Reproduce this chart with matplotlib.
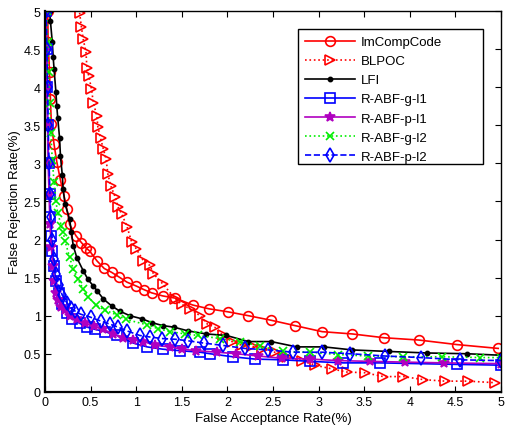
import matplotlib
matplotlib.use("Agg")
import matplotlib.pyplot as plt
from matplotlib.patches import Rectangle

plt.rcParams["font.family"] = ["Liberation Sans", "DejaVu Sans"]

# FAR / FRR curves (%), one pair of lists per method
imcomp_far = [0.03, 0.035, 0.05, 0.06, 0.07, 0.10, 0.13, 0.17, 0.21, 0.24, 0.27, 0.34, 0.40, 0.45,
              0.49, 0.57, 0.65, 0.73, 0.81, 0.90, 1.00, 1.09, 1.17, 1.29, 1.43, 1.62, 1.80, 2.01,
              2.23, 2.48, 2.74, 3.04, 3.37, 3.72, 4.10, 4.52, 4.97]
imcomp_frr = [5.0, 4.6, 4.2, 3.85, 3.52, 3.25, 3.02, 2.78, 2.57, 2.40, 2.20, 2.05, 1.96, 1.89,
              1.85, 1.72, 1.62, 1.57, 1.51, 1.44, 1.39, 1.34, 1.30, 1.26, 1.23, 1.14, 1.09, 1.05,
              1.00, 0.94, 0.87, 0.79, 0.76, 0.71, 0.68, 0.62, 0.57]

blpoc_far = [0.38, 0.40, 0.42, 0.45, 0.46, 0.48, 0.51, 0.53, 0.57, 0.58, 0.61, 0.64, 0.67, 0.69,
             0.72, 0.77, 0.80, 0.84, 0.90, 0.95, 1.00, 1.08, 1.15, 1.19, 1.29, 1.43, 1.50, 1.59,
             1.70, 1.78, 1.86, 1.95, 2.05, 2.16, 2.27, 2.38, 2.52, 2.65, 2.82, 2.96, 3.15, 3.31,
             3.51, 3.71, 3.93, 4.15, 4.39, 4.64, 4.93]
blpoc_frr = [4.98, 4.79, 4.63, 4.46, 4.26, 4.15, 3.98, 3.80, 3.62, 3.48, 3.33, 3.19, 3.06, 2.86,
             2.71, 2.56, 2.43, 2.34, 2.17, 1.97, 1.88, 1.72, 1.66, 1.55, 1.42, 1.22, 1.15, 1.09,
             1.00, 0.89, 0.85, 0.74, 0.66, 0.61, 0.60, 0.56, 0.52, 0.46, 0.41, 0.35, 0.30, 0.26,
             0.25, 0.20, 0.20, 0.16, 0.14, 0.14, 0.12]

lfi_far = [0.05, 0.06, 0.08, 0.09, 0.10, 0.12, 0.13, 0.14, 0.16, 0.17, 0.19, 0.20, 0.22, 0.27,
           0.29, 0.31, 0.35, 0.42, 0.47, 0.53, 0.57, 0.64, 0.73, 0.82, 0.93, 1.06, 1.17, 1.29,
           1.41, 1.57, 1.77, 1.99, 2.23, 2.48, 2.76, 3.06, 3.37, 3.77, 4.19, 4.63, 5.00]
lfi_frr = [5.0, 4.87, 4.6, 4.4, 4.24, 3.94, 3.75, 3.6, 3.34, 3.1, 2.85, 2.66, 2.47, 2.27,
           2.10, 1.92, 1.76, 1.59, 1.48, 1.39, 1.33, 1.22, 1.13, 1.06, 1.00, 0.96, 0.91, 0.87,
           0.85, 0.80, 0.76, 0.74, 0.66, 0.66, 0.59, 0.59, 0.55, 0.53, 0.51, 0.50, 0.48]

gl1_far = [0.01, 0.02, 0.025, 0.03, 0.04, 0.05, 0.06, 0.07, 0.08, 0.10, 0.12, 0.15, 0.19, 0.24,
           0.30, 0.38, 0.46, 0.55, 0.66, 0.79, 0.97, 1.12, 1.29, 1.48, 1.70, 1.81, 2.06, 2.30,
           2.61, 2.91, 3.27, 3.67, 4.52, 5.00]
gl1_frr = [5.0, 4.5, 4.0, 3.5, 3.0, 2.6, 2.3, 2.05, 1.85, 1.65, 1.45, 1.30, 1.15, 1.04,
           0.96, 0.90, 0.85, 0.82, 0.79, 0.74, 0.64, 0.59, 0.56, 0.54, 0.52, 0.50, 0.46, 0.43,
           0.42, 0.40, 0.38, 0.38, 0.36, 0.35]

pl1_far = [0.01, 0.015, 0.02, 0.03, 0.035, 0.045, 0.055, 0.07, 0.085, 0.10, 0.12, 0.14, 0.18,
           0.22, 0.28, 0.35, 0.44, 0.54, 0.64, 0.75, 0.86, 0.97, 1.08, 1.21, 1.37, 1.50, 1.66,
           1.89, 2.10, 2.34, 2.60, 2.91, 3.21, 3.56, 3.95, 4.37, 5.00]
pl1_frr = [5.0, 4.5, 4.0, 3.5, 3.0, 2.6, 2.2, 1.9, 1.65, 1.45, 1.30, 1.20, 1.12,
           1.07, 1.00, 0.95, 0.90, 0.86, 0.82, 0.76, 0.71, 0.68, 0.66, 0.61, 0.59, 0.56, 0.54,
           0.52, 0.50, 0.47, 0.44, 0.43, 0.41, 0.40, 0.39, 0.38, 0.37]

gl2_far = [0.02, 0.03, 0.04, 0.05, 0.065, 0.08, 0.10, 0.12, 0.14, 0.18, 0.20, 0.22, 0.27, 0.31,
           0.36, 0.42, 0.47, 0.56, 0.66, 0.79, 0.89, 1.12, 1.24, 1.37, 1.54, 1.68, 1.92, 2.14,
           2.36, 2.61, 2.91, 3.21, 3.54, 3.93, 4.35, 4.77, 5.00]
gl2_frr = [5.0, 4.6, 4.2, 3.8, 3.4, 3.05, 2.75, 2.5, 2.35, 2.18, 2.10, 1.98, 1.77, 1.61,
           1.48, 1.35, 1.25, 1.14, 1.07, 1.01, 0.95, 0.88, 0.83, 0.79, 0.76, 0.74, 0.70, 0.66,
           0.60, 0.53, 0.52, 0.49, 0.47, 0.46, 0.46, 0.45, 0.45]

pl2_far = [0.015, 0.02, 0.03, 0.035, 0.045, 0.055, 0.065, 0.08, 0.10, 0.12, 0.15, 0.19, 0.24,
           0.29, 0.33, 0.39, 0.50, 0.61, 0.71, 0.80, 0.90, 1.04, 1.15, 1.28, 1.43, 1.57, 1.74,
           1.95, 2.19, 2.45, 2.72, 3.04, 3.35, 3.73, 4.12, 4.55, 5.00]
pl2_frr = [5.0, 4.5, 4.0, 3.5, 3.0, 2.6, 2.3, 2.0, 1.75, 1.55, 1.40, 1.27, 1.17,
           1.10, 1.06, 1.02, 0.98, 0.93, 0.89, 0.85, 0.80, 0.74, 0.72, 0.70, 0.69, 0.67, 0.64,
           0.61, 0.57, 0.55, 0.52, 0.52, 0.50, 0.47, 0.45, 0.42, 0.41]

labels = ["ImCompCode", "BLPOC", "LFI", "R-ABF-g-l1", "R-ABF-p-l1", "R-ABF-g-l2", "R-ABF-p-l2"]
tick_vals = [0, 0.5, 1, 1.5, 2, 2.5, 3, 3.5, 4, 4.5, 5]
tick_text = ["0", "0.5", "1", "1.5", "2", "2.5", "3", "3.5", "4", "4.5", "5"]

series = [
    (imcomp_far, imcomp_frr, dict(color="#ff0000", ls="-", marker="o", mfc="none", ms=7)),
    (blpoc_far, blpoc_frr, dict(color="#ff0000", ls=":", marker=">", mfc="none", ms=7)),
    (lfi_far, lfi_frr, dict(color="black", ls="-", marker=".", ms=6)),
    (gl1_far, gl1_frr, dict(color="#0000ff", ls="-", marker="s", mfc="none", ms=7)),
    (pl1_far, pl1_frr, dict(color="#b000c0", ls="-", marker="*", ms=7)),
    (gl2_far, gl2_frr, dict(color="#00ee00", ls=":", marker="x", ms=6)),
    (pl2_far, pl2_frr, dict(color="#0000ff", ls="--", marker="d", mfc="none", ms=7)),
]

fig = plt.figure(figsize=(5.05, 4.35), dpi=100)
ax = fig.add_axes([0.089, 0.097, 0.903, 0.875])

for (x, y, style), name in zip(series, labels):
    ax.plot(x, y, lw=1.2, mew=1.2, label=name, **style)

ax.set_xlim(0, 5)
ax.set_ylim(0, 5)
ax.set_xticks(tick_vals)
ax.set_xticklabels(tick_text)
ax.set_yticks(tick_vals)
ax.set_yticklabels(tick_text)
ax.tick_params(direction="in", top=True, right=True, length=4, labelsize=9, pad=3)
for side in ax.spines:
    ax.spines[side].set_linewidth(1.0)
ax.spines["left"].set_linewidth(1.6)
ax.spines["bottom"].set_linewidth(1.6)

ax.set_xlabel("False Acceptance Rate(%)", fontsize=9.5, labelpad=3)
ax.set_ylabel("False Rejection Rate(%)", fontsize=9.5, labelpad=2)

# legend entries without their own frame; a wider box is drawn behind them
leg = ax.legend(loc="upper left", bbox_to_anchor=(0.565, 0.942), fontsize=9.5,
                handlelength=3.8, handletextpad=0.4, labelspacing=0.52, borderpad=0.2,
                frameon=False, borderaxespad=0)
leg.set_zorder(6)
box = Rectangle((0.555, 0.598), 0.405, 0.355, transform=ax.transAxes,
                facecolor="white", edgecolor="black", lw=1.0, zorder=5)
ax.add_patch(box)

fig.savefig("out.png", dpi=100)
